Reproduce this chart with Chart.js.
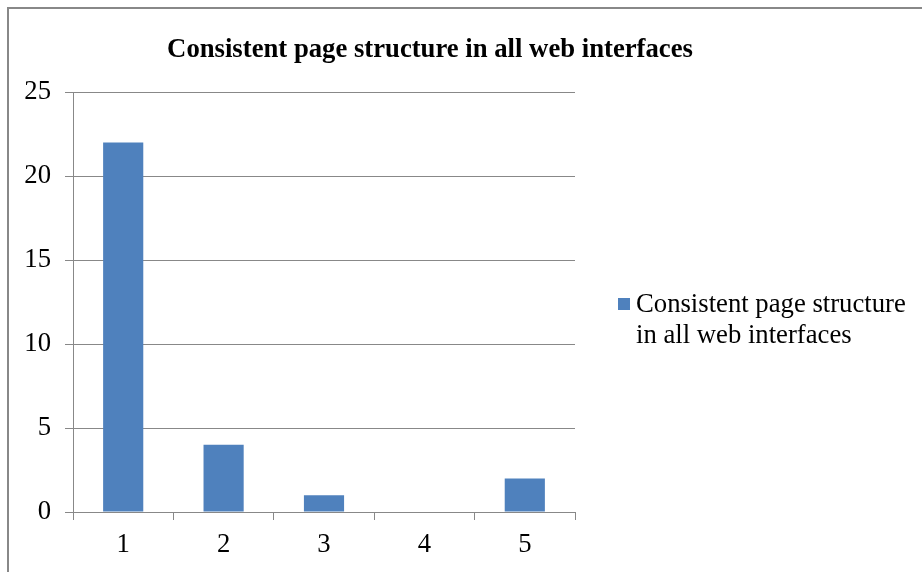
<!DOCTYPE html>
<html>
<head>
<meta charset="utf-8">
<script src="https://cdn.jsdelivr.net/npm/chart.js@4"></script>
<style>
  html, body { margin: 0; padding: 0; background: #fff; overflow: hidden; }
  #wrap { position: relative; width: 922px; height: 572px; }
  #frame { position: absolute; left: 7px; top: 7px; width: 940px; height: 600px;
           border-top: 2px solid #888; border-left: 2px solid #888; pointer-events: none; }
</style>
</head>
<body>
<div id="wrap">
  <canvas id="myChart" width="922" height="572"></canvas>
  <div id="frame"></div>
</div>
<script>
const categories = ["1", "2", "3", "4", "5"];
const counts = [22, 4, 1, 0, 2];
const seriesName = "Consistent page structure in all web interfaces";
const legendLines = ["Consistent page structure", "in all web interfaces"];
const yTicks = [0, 5, 10, 15, 20, 25];

const serif = "'Liberation Serif', 'Times New Roman', serif";

// title + legend drawn by hand: title is centred on the whole frame,
// legend wraps onto two lines like the original
const frameText = {
  id: "frameText",
  afterDraw(chart) {
    const ctx = chart.ctx;
    ctx.save();
    ctx.fillStyle = "#000";
    ctx.textBaseline = "middle";
    ctx.textAlign = "center";
    ctx.font = "bold 26.7px " + serif;
    ctx.fillText(seriesName, 430, 50);

    const x = chart.chartArea.right + 43;
    const y = 298;
    ctx.fillStyle = "#4f81bd";
    ctx.fillRect(x, y, 12, 12);
    ctx.fillStyle = "#000";
    ctx.textAlign = "left";
    ctx.font = "26.7px " + serif;
    legendLines.forEach((line, i) => {
      ctx.fillText(line, x + 18, y + 7 + i * 31);
    });
    ctx.restore();
  }
};

new Chart(document.getElementById("myChart"), {
  type: "bar",
  data: {
    labels: categories,
    datasets: [{
      label: seriesName,
      data: counts,
      backgroundColor: "#4f81bd",
      categoryPercentage: 1,
      barPercentage: 0.4
    }]
  },
  options: {
    responsive: false,
    animation: false,
    layout: { padding: { left: 0, right: 347, top: 92, bottom: 0 } },
    plugins: {
      legend: { display: false },
      tooltip: { enabled: false },
      title: { display: false }
    },
    scales: {
      x: {
        grid: { offset: true, drawOnChartArea: false, color: "#888", tickLength: 8 },
        border: { color: "#888" },
        ticks: { color: "#000", padding: 9, font: { family: serif, size: 26.7 } },
        afterFit(scale) { scale.height = 60; }
      },
      y: {
        min: 0,
        max: 25,
        afterBuildTicks(scale) { scale.ticks = yTicks.map(v => ({ value: v })); },
        grid: { color: "#888", tickLength: 8 },
        border: { color: "#888" },
        ticks: { color: "#000", padding: 14, font: { family: serif, size: 26.7 } },
        afterFit(scale) { scale.width = 73; }
      }
    }
  },
  plugins: [frameText]
});
</script>
</body>
</html>
